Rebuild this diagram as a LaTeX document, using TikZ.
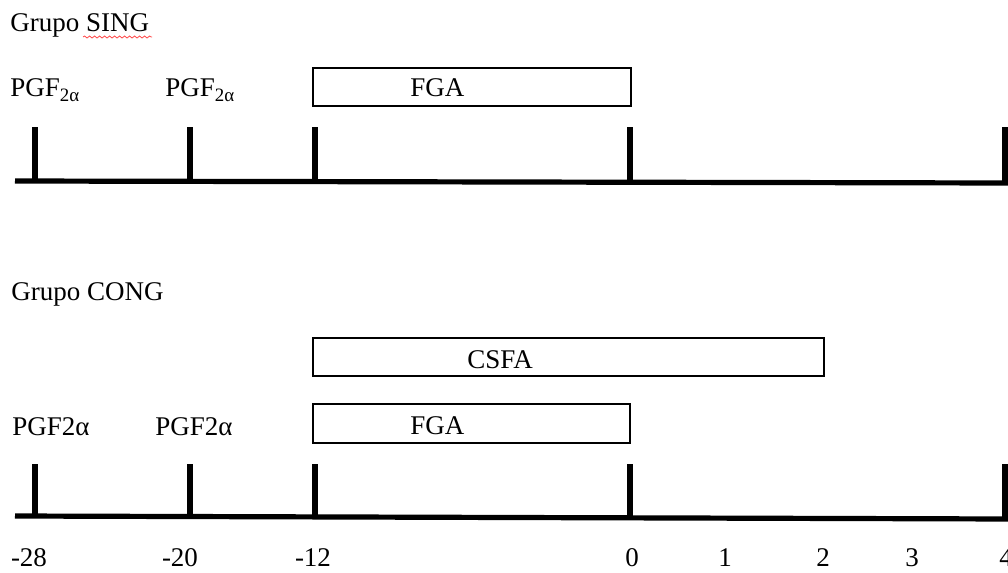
\documentclass[tikz,border=0pt]{standalone}
\usepackage{fontspec}
\setmainfont{Liberation Serif}
\usetikzlibrary{decorations.pathmorphing}
\begin{document}
\begin{tikzpicture}[x=0.5pt,y=-0.5pt,
  lbl/.style={font=\fontsize{13.5}{16}\selectfont, inner sep=0pt, anchor=base west},
  num/.style={font=\fontsize{13.5}{16}\selectfont, inner sep=0pt, anchor=base},
  axis/.style={line width=2.6pt},
  tick/.style={line width=2.6pt},
  bar/.style={draw, line width=0.9pt, fill=white}]
\useasboundingbox (0,0) rectangle (1008,573);
% ---------- Grupo SING ----------
\node[lbl] (tSING) at (10,32) {Grupo SING};
\draw[red!70, line width=0.4pt, decorate, decoration={snake, amplitude=0.5pt, segment length=2.5pt}] (83,37) -- (152,37);
\node[lbl] (p1a) at (10,97) {PGF\textsubscript{2α}};
\node[lbl] (p1b) at (165,97) {PGF\textsubscript{2α}};
\draw[bar] (313,68) rectangle (631,106);
\node[lbl] (fga1) at (410,97) {FGA};
\coordinate (a1s) at (15,181);
\coordinate (a1e) at (1010,183);
\draw[axis] (a1s) -- (a1e);
\foreach \x/\yb in {35/181, 190/181, 315/182, 630/182, 1005/183}
  \draw[tick] (\x,127) -- (\x,\yb);
% ---------- Grupo CONG ----------
\node[lbl] (tCONG) at (11,300) {Grupo CONG};
\draw[bar] (313,338) rectangle (824,376);
\node[lbl] (csfa) at (467,368) {CSFA};
\draw[bar] (313,404) rectangle (630,443);
\node[lbl] (fga2) at (410,434) {FGA};
\node[lbl] (p2a) at (12,435) {PGF2α};
\node[lbl] (p2b) at (155,435) {PGF2α};
\coordinate (a2s) at (15,516);
\coordinate (a2e) at (1010,519);
\draw[axis] (a2s) -- (a2e);
\foreach \x/\yb in {35/516, 190/516, 315/517, 630/517, 1005/518}
  \draw[tick] (\x,464) -- (\x,\yb);
% ---------- numbers ----------
\node[num] (n28) at (29,566) {-28};
\node[num] (n20) at (180,566) {-20};
\node[num] (n12) at (313,566) {-12};
\node[num] (n0) at (632,566) {0};
\node[num] (n1) at (725,566) {1};
\node[num] (n2) at (823,566) {2};
\node[num] (n3) at (912,566) {3};
\node[num] (n4) at (1006,566) {4};
\end{tikzpicture}
\end{document}
